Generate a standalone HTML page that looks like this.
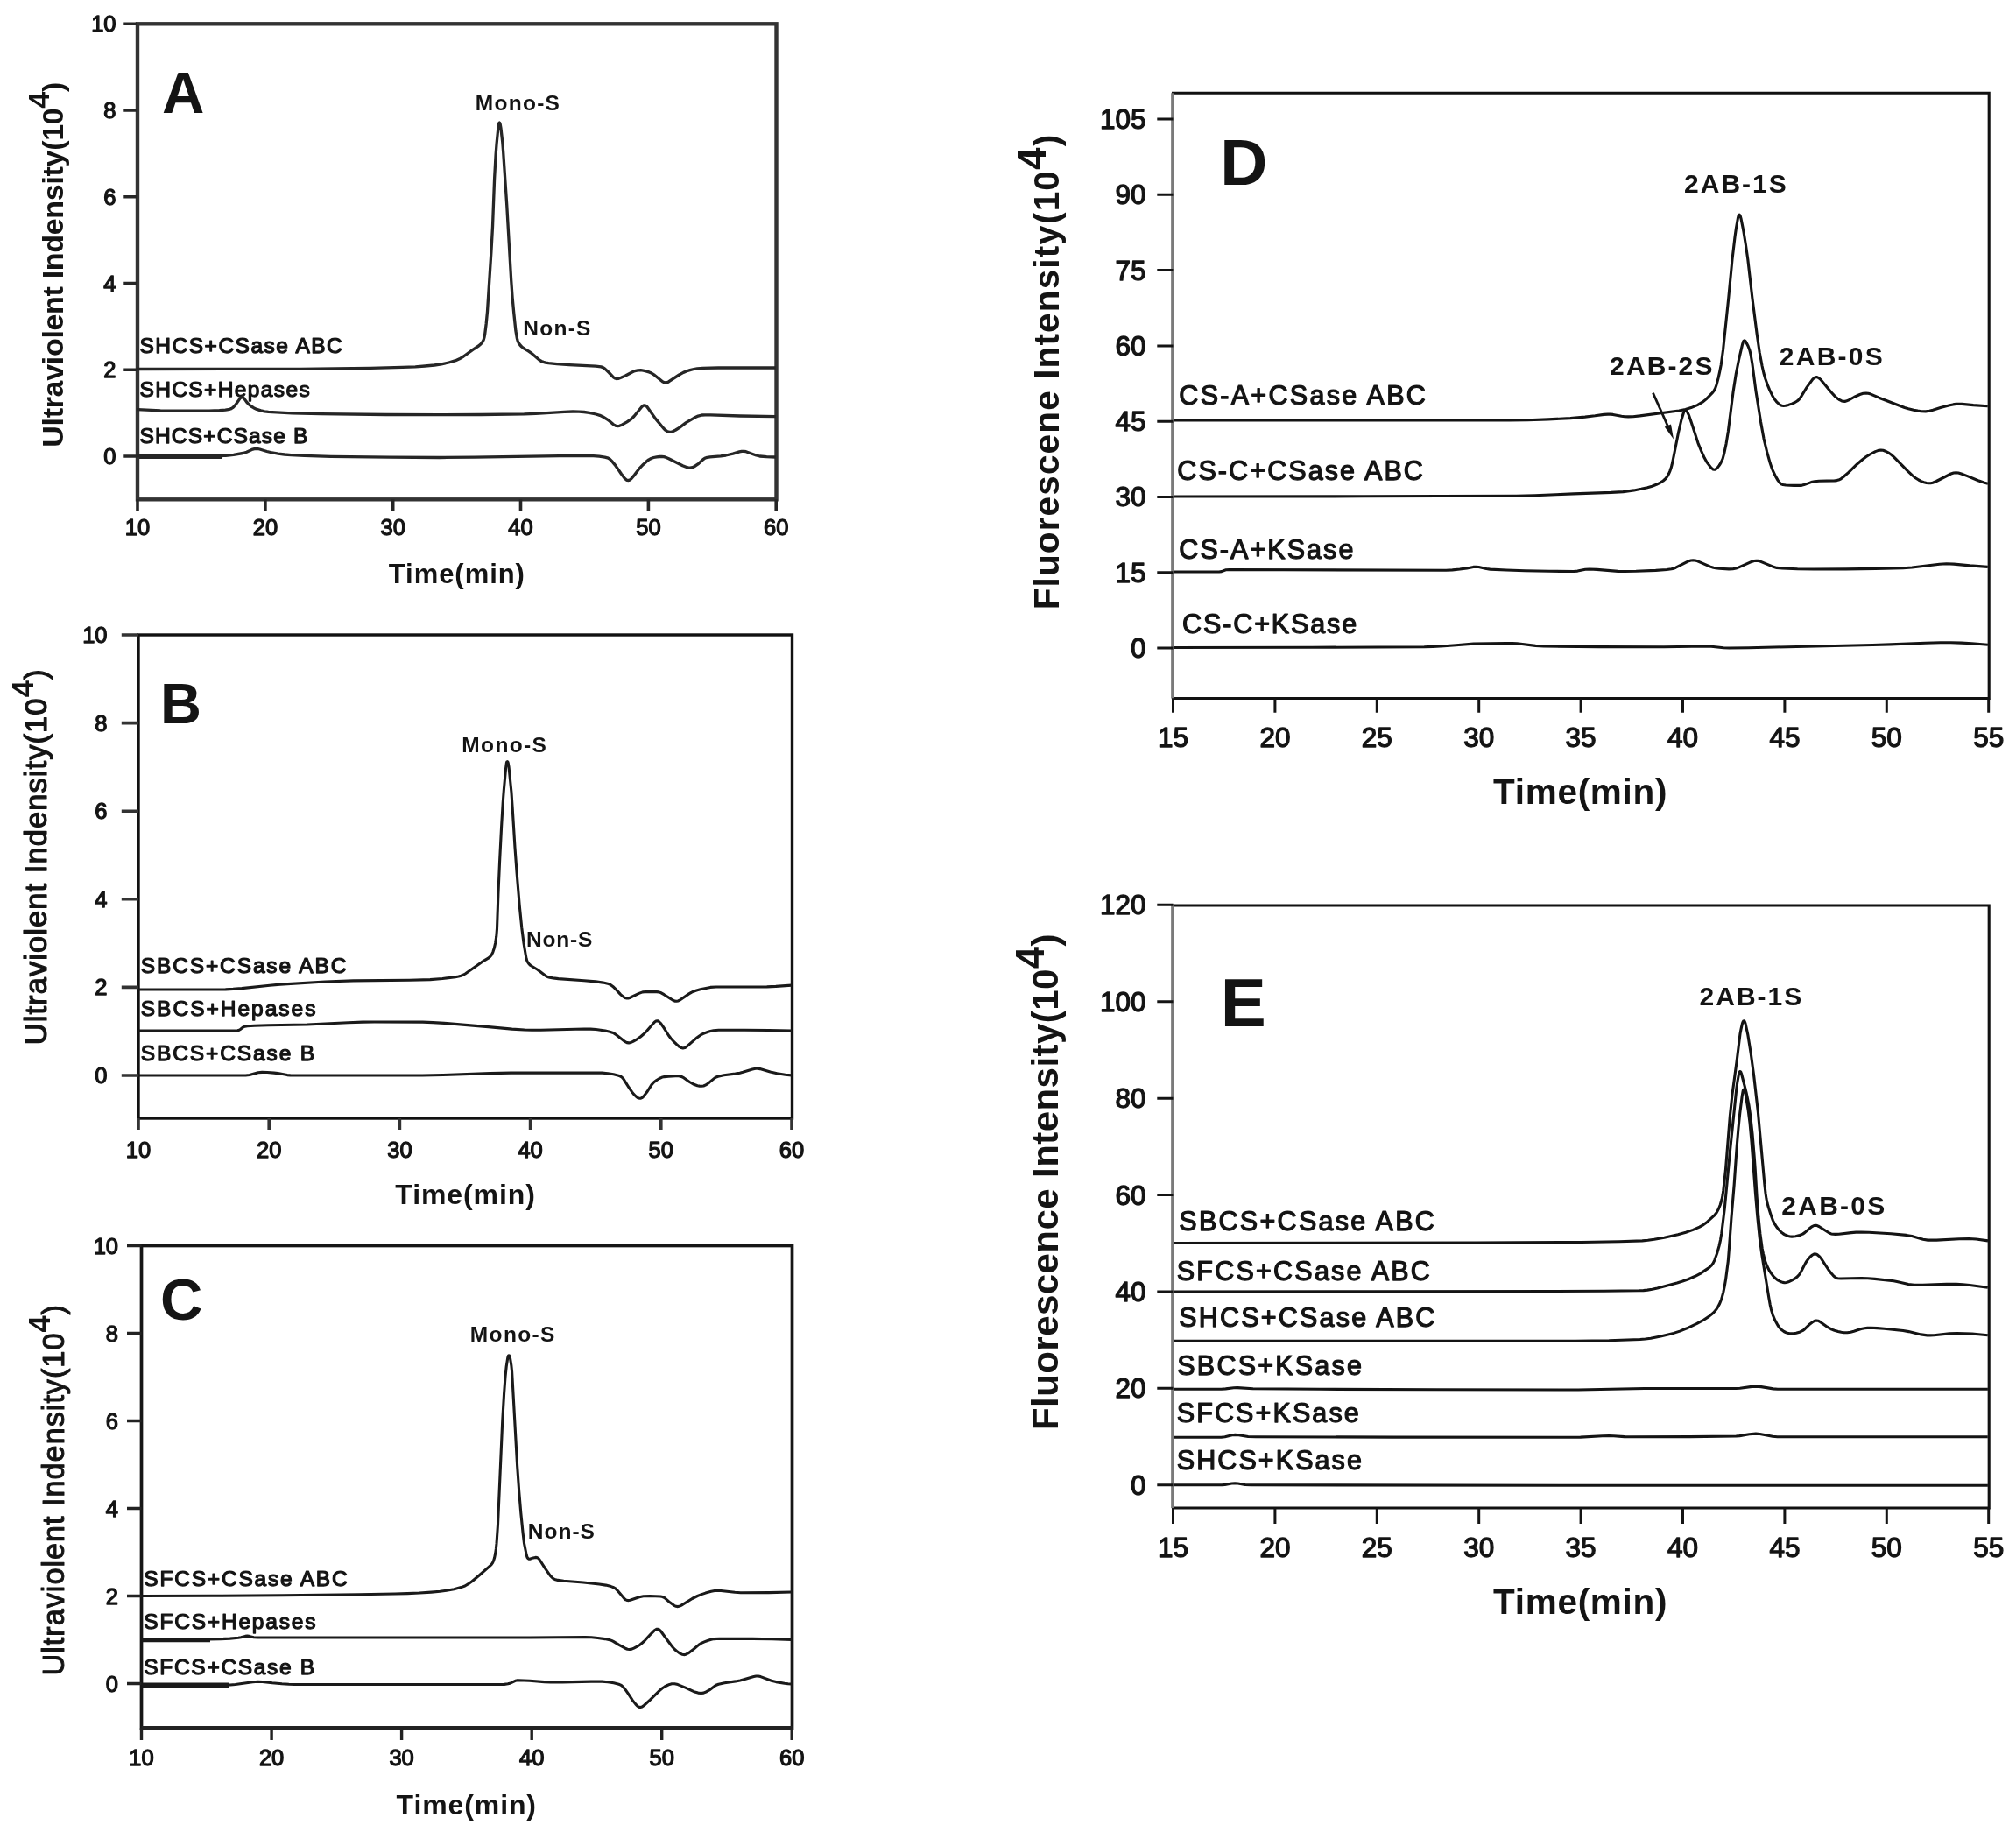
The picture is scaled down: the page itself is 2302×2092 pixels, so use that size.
<!DOCTYPE html>
<html lang="en"><head><meta charset="utf-8"><title>Chromatograms</title>
<style>
html,body{margin:0;padding:0;background:#fff}
body{width:2302px;height:2092px;overflow:hidden}
svg{display:block;filter:blur(0.6px)}
text{font-family:"Liberation Sans",sans-serif;font-weight:bold;fill:#141414}
.n{font-weight:normal;stroke:#141414;stroke-linejoin:round}
</style></head><body>
<svg width="2302" height="2092" viewBox="0 0 2302 2092">
<rect width="2302" height="2092" fill="#fff"/>
<rect x="157" y="27.3" width="729.5" height="543" fill="none" stroke="#333" stroke-width="4.4"/>
<path d="M141.3 521H157M141.3 422.3H157M141.3 323.5H157M141.3 224.8H157M141.3 126H157M141.3 27.3H157" stroke="#262626" stroke-width="3.6" fill="none"/>
<path d="M157 570.3V583.6M302.9 570.3V583.6M448.7 570.3V583.6M594.5 570.3V583.6M740.4 570.3V583.6M886.2 570.3V583.6" stroke="#262626" stroke-width="3.6" fill="none"/>
<text x="132.5" y="530" font-size="25.5" class="n" stroke-width="1.3" text-anchor="end">0</text>
<text x="132.5" y="431.3" font-size="25.5" class="n" stroke-width="1.3" text-anchor="end">2</text>
<text x="132.5" y="332.5" font-size="25.5" class="n" stroke-width="1.3" text-anchor="end">4</text>
<text x="132.5" y="233.8" font-size="25.5" class="n" stroke-width="1.3" text-anchor="end">6</text>
<text x="132.5" y="135" font-size="25.5" class="n" stroke-width="1.3" text-anchor="end">8</text>
<text x="132.5" y="36.3" font-size="25.5" class="n" stroke-width="1.3" text-anchor="end">10</text>
<text x="157" y="611.3" font-size="25.5" class="n" stroke-width="1.3" text-anchor="middle">10</text>
<text x="302.9" y="611.3" font-size="25.5" class="n" stroke-width="1.3" text-anchor="middle">20</text>
<text x="448.7" y="611.3" font-size="25.5" class="n" stroke-width="1.3" text-anchor="middle">30</text>
<text x="594.5" y="611.3" font-size="25.5" class="n" stroke-width="1.3" text-anchor="middle">40</text>
<text x="740.4" y="611.3" font-size="25.5" class="n" stroke-width="1.3" text-anchor="middle">50</text>
<text x="886.2" y="611.3" font-size="25.5" class="n" stroke-width="1.3" text-anchor="middle">60</text>
<text x="443.8" y="665.5" font-size="31" textLength="155.1">Time(min)</text>
<text transform="translate(71.6 510.7) rotate(-90)" font-size="34" textLength="417">Ultraviolent Indensity(10<tspan dy="-15.6" font-size="34" style="font-weight:bold;stroke:none">4</tspan><tspan dy="15.6" font-size="34">)</tspan></text>
<text x="185" y="129" font-size="67">A</text>
<text x="542.8" y="125.8" font-size="24.5" textLength="96.1">Mono-S</text>
<text x="597.3" y="382.5" font-size="24.5" textLength="77.1">Non-S</text>
<text x="159.5" y="402.5" font-size="24.5" class="n" stroke-width="1.25" textLength="231.3">SHCS+CSase ABC</text>
<text x="159.5" y="452.8" font-size="24.5" class="n" stroke-width="1.25" textLength="194.2">SHCS+Hepases</text>
<text x="159.5" y="506.3" font-size="24.5" class="n" stroke-width="1.25" textLength="191.9">SHCS+CSase B</text>
<path d="M157 421.5L343 421.3L423.2 420.4L459.5 419.4L474.2 418.8L485.2 418L496.1 417L504 415.8L512.4 414L520.3 411.7L524.6 409.8L529.3 407L539.8 399.3L546.5 395L549.1 392.7L550.8 390.6L552.1 388.2L552.9 385.6L553.7 381.4L555.2 369.5L556.5 355.8L560.9 287.7L562.5 258.8L564.6 204.1L566.1 176.9L567.1 163.9L568.9 145.7L569.5 141.5L569.9 140.5L570.3 140.1L570.7 140.5L571.1 141.5L571.9 146L573.7 161.7L574.6 172.6L578.7 233.7L583.7 320.1L585.1 339.8L586.8 358L588.9 377.8L590.3 386L591.2 389.3L592.3 391.8L593.9 394L595.8 396L598.6 398.1L603.7 401.1L606.2 402.8L616.1 411.2L618.2 412.5L620.5 413.4L622.9 414.1L626.4 414.7L636 415.7L650 416.7L680.2 418.2L686.4 418.9L688.5 419.6L690.5 420.9L695.4 425.5L700.5 430.9L702.1 432L703.8 432.5L705.9 432.4L709 431.3L714.2 429L721.7 425L724.9 423.6L728.3 422.8L731.7 422.7L734.5 423.1L737.6 423.8L741.2 424.9L743.9 426.1L747.5 428.4L756.5 435.8L758.5 436.7L760.3 437L761.9 436.7L763.8 435.7L775.5 428L780.3 425.4L784.3 423.8L787.8 422.6L792.2 421.5L796.1 420.8L802.3 420.4L820.3 420L885.8 420" fill="none" stroke="#262626" stroke-width="3.3" stroke-linejoin="round"/>
<path d="M157 467.7L183.2 468.8L212.2 469.2L239 469.1L250.5 468.7L257.4 468.2L262.3 467.3L264.1 466.6L265.6 465.7L267.2 464.2L269.3 461.8L274 455.1L275.2 454.1L276.5 453.7L277.6 454.1L278.6 454.9L282.1 459.7L284.1 461.8L286.8 464L289.6 465.7L293.2 467.4L297.9 468.9L302.1 469.9L306.5 470.4L333.5 471.8L366.2 472.6L441 473.5L501 473.7L549 473.5L598.5 472.9L611.7 472.4L644.4 470.4L654.1 470L661.1 470.1L666.9 470.5L672.8 471.4L680.4 473L684.9 474.3L688.5 476L693.6 479.2L696.1 480.9L700.2 484.5L701.8 485.6L703.6 486.4L705.2 486.6L707.3 486.3L710.1 485.2L715.9 481.8L719.9 479.2L722.1 477.2L724.1 475.3L732.9 464.5L734.5 463.2L735.9 462.8L737.5 463.3L739 464.7L748.5 478.1L757.8 489.3L759.8 491.2L761.6 492.4L763.4 493.2L765 493.4L766.4 493.3L768.1 492.8L771.6 491L776.2 488.1L783.4 482.6L792.4 477.3L797.2 475.1L801.5 474L805 473.8L811.5 473.8L845 475L886 475.7" fill="none" stroke="#262626" stroke-width="3.3" stroke-linejoin="round"/>
<path d="M159 521.3H253" stroke="#262626" stroke-width="5.4" fill="none"/>
<path d="M157 520.5L250.5 520.5L257.7 520.3L266.7 519.4L277.5 517.5L281.6 516.2L288.6 513.1L290.5 512.6L292.5 512.4L294.4 512.5L296.6 513L304.7 515.5L308.9 516.5L317.7 518.1L324.9 519L332.4 519.6L347.6 520.4L377.8 521.3L444.6 522.2L501.8 522.5L541.8 522.2L638.8 520.7L668.6 520.5L677.6 520.7L684.3 521.2L690.7 522.1L693.6 522.8L696 524L698.5 526.4L702 530.6L704.8 534.4L709.3 541L713.1 546L715.3 547.9L716.3 548.4L717.3 548.5L718.2 548.4L719.2 548L721 546.5L724.7 542.1L730.6 534.3L734.4 530.4L738.3 526.9L740.9 524.9L743.5 523.5L746.3 522.5L749.8 521.8L753 521.5L755.7 521.4L757.9 521.6L760.1 522.2L763.7 523.7L779.5 531.8L784.7 533.7L786.4 534.1L788.1 534.2L790.7 533.7L793.7 532.2L797.8 529.3L803.3 524.3L804.7 523.3L806.3 522.7L810.7 521.8L822.9 520.8L828.8 520L836.9 518.2L844.3 515.9L846.9 515.3L849.4 515.3L851.8 515.7L863.5 520L867.6 521L875.3 521.7L885.8 522" fill="none" stroke="#262626" stroke-width="3.3" stroke-linejoin="round"/>
<rect x="158" y="725" width="746.5" height="552" fill="none" stroke="#111" stroke-width="3.4"/>
<path d="M138.8 1228H158M138.8 1127.4H158M138.8 1026.8H158M138.8 926.2H158M138.8 825.6H158M138.8 725H158" stroke="#333" stroke-width="3.6" fill="none"/>
<path d="M158 1277V1290M307.2 1277V1290M456.4 1277V1290M605.6 1277V1290M754.8 1277V1290M904 1277V1290" stroke="#333" stroke-width="3.6" fill="none"/>
<text x="122.5" y="1237" font-size="25.5" class="n" stroke-width="1.3" text-anchor="end">0</text>
<text x="122.5" y="1136.4" font-size="25.5" class="n" stroke-width="1.3" text-anchor="end">2</text>
<text x="122.5" y="1035.8" font-size="25.5" class="n" stroke-width="1.3" text-anchor="end">4</text>
<text x="122.5" y="935.2" font-size="25.5" class="n" stroke-width="1.3" text-anchor="end">6</text>
<text x="122.5" y="834.6" font-size="25.5" class="n" stroke-width="1.3" text-anchor="end">8</text>
<text x="122.5" y="734" font-size="25.5" class="n" stroke-width="1.3" text-anchor="end">10</text>
<text x="158" y="1321.5" font-size="25.5" class="n" stroke-width="1.3" text-anchor="middle">10</text>
<text x="307.2" y="1321.5" font-size="25.5" class="n" stroke-width="1.3" text-anchor="middle">20</text>
<text x="456.4" y="1321.5" font-size="25.5" class="n" stroke-width="1.3" text-anchor="middle">30</text>
<text x="605.6" y="1321.5" font-size="25.5" class="n" stroke-width="1.3" text-anchor="middle">40</text>
<text x="754.8" y="1321.5" font-size="25.5" class="n" stroke-width="1.3" text-anchor="middle">50</text>
<text x="904" y="1321.5" font-size="25.5" class="n" stroke-width="1.3" text-anchor="middle">60</text>
<text x="451.3" y="1375" font-size="32" textLength="159.6">Time(min)</text>
<text transform="translate(53.1 1193.3) rotate(-90)" font-size="34.5" textLength="428.7" class="n" stroke-width="1.2">Ultraviolent Indensity(10<tspan dy="-14.7" font-size="34.5" style="font-weight:bold;stroke:none">4</tspan><tspan dy="14.7" font-size="34.5">)</tspan></text>
<text x="183" y="825.5" font-size="65">B</text>
<text x="527.3" y="858.8" font-size="24.5" textLength="96.6">Mono-S</text>
<text x="601.1" y="1081.3" font-size="24.5" textLength="75.3">Non-S</text>
<text x="160.8" y="1110.5" font-size="24.5" class="n" stroke-width="1.25" textLength="234.6">SBCS+CSase ABC</text>
<text x="160.8" y="1160" font-size="24.5" class="n" stroke-width="1.25" textLength="199.6">SBCS+Hepases</text>
<text x="160.8" y="1211.3" font-size="24.5" class="n" stroke-width="1.25" textLength="198.4">SBCS+CSase B</text>
<path d="M158 1130L248.2 1130L257.5 1129.9L266.2 1129.4L276 1128.6L308 1125.2L320 1124.1L371.6 1121L403.4 1119.9L467.6 1119.2L491.1 1118.6L505.3 1117.5L519.9 1115.7L523.6 1115L526.5 1114.2L528.8 1113.3L531.2 1112L550 1098.7L557.5 1094.2L559.8 1092.3L561.4 1090.2L562.8 1087.3L564.3 1082.8L565.6 1077L566.8 1069.3L567.5 1060.6L568.9 1021.4L570.5 985.1L572.6 944.2L574.2 917L575.3 902.5L577.6 877.1L578.4 871.3L578.8 870L579.3 869.6L579.8 870L580.2 871L581 875.5L583.9 904.1L585.1 921.6L588 968L590.1 996.7L593.2 1033.8L595.8 1059.7L598 1076.8L600 1089.1L601 1094.5L601.8 1097.1L602.8 1099.1L604.1 1100.8L605.9 1102.5L613.8 1107.3L622.7 1114.1L625.1 1115.4L627.7 1116.2L631.7 1116.9L637.6 1117.6L667 1119.7L680.2 1120.9L688.7 1122.1L695 1123.6L697.4 1124.7L699.8 1126.4L703.6 1130.1L708.4 1135.4L710.9 1137.6L713.5 1139.4L715.8 1140L717.4 1139.9L719 1139.5L729.6 1134.4L733.8 1132.9L738 1132.5L749.7 1132.6L752.4 1132.9L755 1133.8L758.2 1135.7L768.5 1142.3L770.5 1143.1L772.6 1143.3L774.2 1143L776 1142.2L786.7 1134.9L789.3 1133.4L791.8 1132.2L795.3 1131L799.7 1129.8L811.2 1127.4L817.9 1127L875.7 1126.9L885.9 1126.4L903.8 1125.1" fill="none" stroke="#1a1a1a" stroke-width="3.1" stroke-linejoin="round"/>
<path d="M158 1177L269.2 1177L271.4 1176.8L273.2 1176.2L274.4 1175.5L277.5 1173.1L279.6 1172.2L282.5 1171.8L290.5 1171.3L306.3 1170.8L350.8 1170L397.5 1167.7L414.2 1167.1L427.4 1167L482.7 1167.1L494.2 1167.6L507.4 1168.4L557.7 1172.6L584.6 1175.1L598.8 1176L607.1 1176.2L617.6 1176.2L667.3 1175L674.3 1175.1L680.5 1175.5L685.8 1176.2L691.2 1177.1L696.3 1178.2L699.4 1179.2L701.4 1180.2L703.4 1181.6L713.9 1189.7L715.8 1190.6L718 1190.9L720.1 1190.5L722.8 1189.4L727.6 1186.6L731.3 1184L734.5 1181.3L737.2 1178.7L747.3 1167.3L749 1166.1L750.4 1165.8L751.4 1165.9L752.4 1166.5L754.4 1168.5L758 1173.6L763.4 1182.3L766 1185.7L768.8 1188.8L772.7 1192.7L775.9 1195.5L778 1196.6L779.8 1197L781.9 1196.6L783.9 1195.4L796.1 1184.7L800 1181.9L803.1 1180.4L807.8 1178.5L811.3 1177.4L814.7 1176.7L820.5 1176.3L850 1176.3L878 1176.5L904 1177" fill="none" stroke="#1a1a1a" stroke-width="3.1" stroke-linejoin="round"/>
<path d="M158 1228L280.5 1228L284.9 1227.5L294.8 1224.8L299.2 1224.4L305.2 1224.5L313 1225.1L317.2 1225.6L328 1227.6L331.5 1227.9L336 1228L482.2 1228L506.2 1227.5L559.7 1225.6L583.4 1225.1L687.4 1225.1L694.1 1225.7L700.6 1226.8L706.4 1228.2L708 1228.8L709.4 1229.6L710.9 1230.9L712.3 1232.6L718 1241.7L721.6 1246.9L723.6 1249.4L725.7 1251.5L727.8 1253.3L729.2 1254L730.8 1254.3L731.8 1254.2L732.8 1253.7L734 1252.9L735.1 1251.6L739.1 1246.5L743.9 1238.9L746.7 1235.8L749.7 1233.5L752.9 1231.5L755.6 1230.3L758.5 1229.6L763.4 1229.2L771.2 1228.8L774.9 1228.8L777.4 1229.2L779 1229.8L780.7 1230.7L787.4 1235.5L792.4 1238.3L796.4 1239.7L798.8 1240.1L801 1240.3L803.4 1240L805.9 1238.9L810.1 1235.9L815.9 1231.1L817.8 1230L819.9 1229.2L826.5 1227.8L839.6 1226.1L844.8 1225.2L848.4 1224.3L859.2 1221.1L862.8 1220.3L865.3 1220.2L867.8 1220.6L879.5 1224L887.3 1225.7L896.7 1227.2L903.9 1227.9" fill="none" stroke="#1a1a1a" stroke-width="3.1" stroke-linejoin="round"/>
<rect x="161.5" y="1422.5" width="743" height="550.7" fill="none" stroke="#161616" stroke-width="3.7"/>
<path d="M161.5 1973.4H904.5" stroke="#222" stroke-width="5" fill="none"/>
<path d="M145 1922.5H161.5M145 1822.5H161.5M145 1722.5H161.5M145 1622.5H161.5M145 1522.5H161.5M145 1422.5H161.5" stroke="#222" stroke-width="3.4" fill="none"/>
<path d="M161.5 1973.2V1987M310.1 1973.2V1987M458.6 1973.2V1987M607.2 1973.2V1987M755.7 1973.2V1987M904.2 1973.2V1987" stroke="#222" stroke-width="3.4" fill="none"/>
<text x="135" y="1931.5" font-size="25.5" class="n" stroke-width="1.3" text-anchor="end">0</text>
<text x="135" y="1831.5" font-size="25.5" class="n" stroke-width="1.3" text-anchor="end">2</text>
<text x="135" y="1731.5" font-size="25.5" class="n" stroke-width="1.3" text-anchor="end">4</text>
<text x="135" y="1631.5" font-size="25.5" class="n" stroke-width="1.3" text-anchor="end">6</text>
<text x="135" y="1531.5" font-size="25.5" class="n" stroke-width="1.3" text-anchor="end">8</text>
<text x="135" y="1431.5" font-size="25.5" class="n" stroke-width="1.3" text-anchor="end">10</text>
<text x="161.5" y="2015.5" font-size="25.5" class="n" stroke-width="1.3" text-anchor="middle">10</text>
<text x="310.1" y="2015.5" font-size="25.5" class="n" stroke-width="1.3" text-anchor="middle">20</text>
<text x="458.6" y="2015.5" font-size="25.5" class="n" stroke-width="1.3" text-anchor="middle">30</text>
<text x="607.2" y="2015.5" font-size="25.5" class="n" stroke-width="1.3" text-anchor="middle">40</text>
<text x="755.7" y="2015.5" font-size="25.5" class="n" stroke-width="1.3" text-anchor="middle">50</text>
<text x="904.2" y="2015.5" font-size="25.5" class="n" stroke-width="1.3" text-anchor="middle">60</text>
<text x="452.6" y="2071.5" font-size="32" textLength="159.4">Time(min)</text>
<text transform="translate(73.4 1913.5) rotate(-90)" font-size="34.3" textLength="423.4" class="n" stroke-width="1.0">Ultraviolent Indensity(10<tspan dy="-16.4" font-size="34.3" style="font-weight:bold;stroke:none">4</tspan><tspan dy="16.4" font-size="34.3">)</tspan></text>
<text x="183" y="1506.5" font-size="67">C</text>
<text x="536.8" y="1531.5" font-size="24.5" textLength="96.6">Mono-S</text>
<text x="602.8" y="1757" font-size="24.5" textLength="76.1">Non-S</text>
<text x="164.3" y="1811" font-size="24.5" class="n" stroke-width="1.25" textLength="232.4">SFCS+CSase ABC</text>
<text x="164.3" y="1860.3" font-size="24.5" class="n" stroke-width="1.25" textLength="196.1">SFCS+Hepases</text>
<text x="164.3" y="1911.5" font-size="24.5" class="n" stroke-width="1.25" textLength="194.9">SFCS+CSase B</text>
<path d="M162 1822.5L242.7 1822.3L322.7 1821.7L409.7 1820.7L451 1820L465.2 1819.6L479 1819L492.4 1818.1L502.4 1817.3L509.8 1816.3L518.4 1814.7L526.4 1812.6L530.9 1811L534.8 1808.7L539 1805.7L547.1 1799L560.9 1786.8L562.5 1784.6L563.6 1782.1L564.7 1778.5L565.7 1773.4L566.4 1768.7L567 1762.7L568.5 1741L573.7 1623.4L575.6 1591.2L577 1572.2L578.2 1560.5L579.8 1550.2L580.4 1548.4L580.7 1547.9L581.1 1547.8L581.5 1548L581.9 1548.8L582.7 1551.9L583.9 1559.6L584.6 1566.3L590.6 1673.4L592.7 1703L594.8 1727.9L597.1 1750.6L598.5 1762.2L601.2 1775.7L602.1 1778.5L603.1 1779.8L603.9 1780.3L605 1780.3L609 1778.9L611.4 1778.4L613.2 1778.6L614.6 1779.3L616.1 1781L622.4 1790.9L628.2 1799.1L630.7 1801.8L632.1 1802.8L633.4 1803.4L637 1804.4L643.7 1805.3L666.1 1807L684.3 1809L691.7 1810.1L697.7 1811.6L700.8 1812.7L703 1814.1L704.9 1816.1L712.9 1825.6L714.6 1826.9L716.3 1827.5L717.7 1827.6L719.6 1827.2L730 1823.7L734.6 1822.7L742.1 1822.5L754.3 1823L756.7 1823.5L758.9 1824.6L764.9 1829.8L769.7 1833.3L771.9 1834.3L774 1834.6L775.6 1834.3L777.7 1833.4L790.4 1825.5L796.4 1822.5L801.1 1820.6L805.6 1819.1L812.1 1817.3L816 1816.5L819.2 1816.3L823.2 1816.5L839.1 1818.3L845.8 1818.7L877.8 1818.6L903.8 1818" fill="none" stroke="#1a1a1a" stroke-width="3.1" stroke-linejoin="round"/>
<path d="M163 1872.7H240" stroke="#1a1a1a" stroke-width="5" fill="none"/>
<path d="M162 1872.7L210 1872.5L251.5 1871.7L262.5 1871.1L272.2 1870.3L275.1 1869.8L280.1 1868.4L282.3 1868.1L284.5 1868.4L289.7 1869.8L294.4 1870L605.2 1870L668.4 1869.5L675.4 1869.8L682.6 1870.5L690.8 1871.6L696.2 1872.7L698.3 1873.4L700.3 1874.4L706.9 1878.4L713.9 1882.2L716.4 1883.2L718.8 1883.5L721.3 1883.1L723.8 1882.1L727.6 1880.2L730.7 1878.2L733.4 1876L736.4 1873.3L742.8 1866.3L747 1862.1L749 1860.7L750 1860.3L750.9 1860.2L751.7 1860.4L752.7 1860.9L754.4 1862.5L765.8 1878L768.4 1881.3L770.5 1883.5L773.5 1886.1L776.5 1888.2L778.8 1889.2L780.9 1889.6L783.2 1889.2L785.8 1887.9L792 1883.2L797.8 1878.4L800.9 1876.4L804.3 1874.9L808.7 1873.2L812.1 1872.2L815.3 1871.6L821.5 1871.3L859.3 1871.4L881.7 1871.8L904 1872.5" fill="none" stroke="#1a1a1a" stroke-width="3.1" stroke-linejoin="round"/>
<path d="M163 1924.2H262" stroke="#1a1a1a" stroke-width="5.4" fill="none"/>
<path d="M162 1924L263 1924L268.7 1923.5L288.5 1920.7L294.7 1920.3L299.7 1920.5L310.9 1921.8L321.9 1922.8L329.8 1923.3L336.3 1923.5L569.8 1923.5L575.8 1923.4L580 1922.8L583.1 1921.9L588.4 1919.3L590.1 1918.9L592 1918.7L604.7 1919.3L621.7 1920.6L628.9 1921L642.2 1920.9L675.2 1920.1L687.4 1920.1L694.1 1920.7L700.8 1921.8L706.6 1923.3L708.2 1923.9L709.7 1924.7L711.5 1926.3L713.9 1929.2L717.4 1934.1L722.3 1941.6L725.7 1945.9L727.4 1947.8L728.7 1948.8L729.9 1949.4L731.2 1949.6L733.1 1949.1L735.3 1947.5L742.3 1941.1L753 1930.6L756 1928L758.7 1926.2L762 1924.5L764.6 1923.4L767 1922.8L770.4 1922.8L774 1923.6L782.6 1927.1L792.3 1931.7L797.1 1933.1L800.5 1933.5L803.4 1933.1L806.8 1931.7L810.9 1929.3L816.6 1924.9L818.4 1924L820.5 1923.2L827.3 1921.7L839.9 1919.9L845.1 1918.9L850.4 1917.6L860.7 1914.6L863.4 1914L865.8 1914L868.5 1914.6L880.9 1919.2L886.2 1920.6L895.8 1922.3L899.8 1922.8L903.8 1923" fill="none" stroke="#1a1a1a" stroke-width="3.1" stroke-linejoin="round"/>
<path d="M1339.5 106.2H2271.2V797.5H1339.5" fill="none" stroke="#111" stroke-width="3.1" stroke-linecap="square"/>
<path d="M1339 106.2V797.5" fill="none" stroke="#7a7a7a" stroke-width="3.7"/>
<path d="M1321.3 740H1339.5M1321.3 653.7H1339.5M1321.3 567.4H1339.5M1321.3 481.2H1339.5M1321.3 394.9H1339.5M1321.3 308.6H1339.5M1321.3 222.3H1339.5M1321.3 136H1339.5" stroke="#141414" stroke-width="3.0" fill="none"/>
<path d="M1339.5 797.5V813.8M1455.9 797.5V813.8M1572.3 797.5V813.8M1688.7 797.5V813.8M1805.1 797.5V813.8M1921.5 797.5V813.8M2037.9 797.5V813.8M2154.3 797.5V813.8M2270.7 797.5V813.8" stroke="#141414" stroke-width="3.0" fill="none"/>
<text x="1308.5" y="751" font-size="31.5" class="n" stroke-width="1.3" text-anchor="end">0</text>
<text x="1308.5" y="664.7" font-size="31.5" class="n" stroke-width="1.3" text-anchor="end">15</text>
<text x="1308.5" y="578.4" font-size="31.5" class="n" stroke-width="1.3" text-anchor="end">30</text>
<text x="1308.5" y="492.2" font-size="31.5" class="n" stroke-width="1.3" text-anchor="end">45</text>
<text x="1308.5" y="405.9" font-size="31.5" class="n" stroke-width="1.3" text-anchor="end">60</text>
<text x="1308.5" y="319.6" font-size="31.5" class="n" stroke-width="1.3" text-anchor="end">75</text>
<text x="1308.5" y="233.3" font-size="31.5" class="n" stroke-width="1.3" text-anchor="end">90</text>
<text x="1308.5" y="147" font-size="31.5" class="n" stroke-width="1.3" text-anchor="end">105</text>
<text x="1339.5" y="853" font-size="31.5" class="n" stroke-width="1.3" text-anchor="middle">15</text>
<text x="1455.9" y="853" font-size="31.5" class="n" stroke-width="1.3" text-anchor="middle">20</text>
<text x="1572.3" y="853" font-size="31.5" class="n" stroke-width="1.3" text-anchor="middle">25</text>
<text x="1688.7" y="853" font-size="31.5" class="n" stroke-width="1.3" text-anchor="middle">30</text>
<text x="1805.1" y="853" font-size="31.5" class="n" stroke-width="1.3" text-anchor="middle">35</text>
<text x="1921.5" y="853" font-size="31.5" class="n" stroke-width="1.3" text-anchor="middle">40</text>
<text x="2037.9" y="853" font-size="31.5" class="n" stroke-width="1.3" text-anchor="middle">45</text>
<text x="2154.3" y="853" font-size="31.5" class="n" stroke-width="1.3" text-anchor="middle">50</text>
<text x="2270.7" y="853" font-size="31.5" class="n" stroke-width="1.3" text-anchor="middle">55</text>
<text x="1705.1" y="917.5" font-size="40.5" textLength="198.3">Time(min)</text>
<text transform="translate(1208.5 696.3) rotate(-90)" font-size="40.5" textLength="542.5">Fluorescene Intensity(10<tspan dy="-14.5" font-size="46" style="font-weight:bold;stroke:none">4</tspan><tspan dy="14.5" font-size="40.5">)</tspan></text>
<text x="1393.3" y="211.3" font-size="75">D</text>
<text x="1923.1" y="220" font-size="30" textLength="116.6">2AB-1S</text>
<text x="2031.8" y="417" font-size="30" textLength="117.9">2AB-0S</text>
<text x="1838.1" y="427.5" font-size="30" textLength="117.3">2AB-2S</text>
<text x="1346.3" y="462" font-size="30.5" class="n" stroke-width="1.25" textLength="281.6">CS-A+CSase ABC</text>
<text x="1344.3" y="547.5" font-size="30.5" class="n" stroke-width="1.25" textLength="280.6">CS-C+CSase ABC</text>
<text x="1346.3" y="637.5" font-size="30.5" class="n" stroke-width="1.25" textLength="199.1">CS-A+KSase</text>
<text x="1350.1" y="722.5" font-size="30.5" class="n" stroke-width="1.25" textLength="199.1">CS-C+KSase</text>
<path d="M1887.5 448.8L1905.5 489" stroke="#141414" stroke-width="2.8" fill="none"/>
<path d="M1911 501.5L1900.8 487.6L1908 484.4Z" fill="#141414"/>
<path d="M1340 480L1723.7 480L1744.2 479.8L1767.7 478.9L1793.2 477.6L1809.9 476.1L1821.3 474.8L1831.5 473.4L1835.9 473.1L1838.9 473.1L1841.9 473.4L1851.5 475.3L1855.2 475.8L1859.2 475.9L1864.7 475.7L1872.6 474.9L1917.2 469L1924.6 467.6L1931 465.6L1938.2 462.6L1944 459.2L1947.9 456.1L1954.8 449.2L1957.1 446.3L1958.7 443.2L1960.1 439.2L1962.1 431.7L1963.7 424.4L1965.2 416.8L1967.6 399.2L1973.6 341.8L1978 296.2L1981 270.7L1982.4 260.8L1984.4 249.2L1985.1 246.3L1985.6 245.5L1986 245.2L1986.5 245.5L1987.1 246.3L1988.1 250L1991 264.7L1993.5 280.3L1995.8 296.3L2001 341.3L2006.2 381.7L2009.2 402.5L2012.1 418L2013.9 426L2015.8 432.5L2018.1 439.1L2020.7 445.3L2023.5 451.2L2025.7 455.1L2028.6 458.8L2031.7 461.7L2033.3 462.8L2034.9 463.3L2036.6 463.5L2038.8 463.3L2042.2 462.4L2046.6 460.9L2049.6 459.5L2052.1 458L2054.2 456.2L2055.9 454.1L2062.5 443.2L2069.1 434.1L2070.4 432.6L2071.7 431.5L2072.9 430.9L2074.2 430.6L2075.3 430.8L2076.3 431.3L2078.6 433.1L2083.6 438.9L2090.4 447.3L2095.8 453.1L2098.2 455L2100.6 456.7L2102.6 457.7L2104.4 458.3L2106.6 458.4L2108.7 457.8L2111 456.8L2117.1 453.5L2123.7 450.5L2127.5 449.3L2130.9 449L2133.4 449.3L2136.2 450.1L2145.6 454.2L2174.8 465.5L2179.1 466.7L2185.2 468.2L2189.8 469.1L2193.8 469.7L2198.8 469.9L2203.2 469.3L2207.1 468.3L2215.7 465.6L2226.3 462.8L2230.2 461.9L2233.6 461.4L2240.1 461.4L2253.3 462.6L2269.8 463.7" fill="none" stroke="#141414" stroke-width="3.1" stroke-linejoin="round"/>
<path d="M1340 567L1557.2 566.8L1731.5 566.2L1752.5 565.7L1796.7 563.9L1839.7 562.4L1853.4 561.6L1865.8 559.9L1874.1 558.3L1881.2 556.7L1886.5 555.2L1891.4 553.3L1895.9 551.1L1899.2 549L1902 546.5L1904.2 543.5L1905.5 541.1L1906.8 538.1L1908 534.8L1909 531.2L1911.2 520.9L1916.4 494.5L1919.7 480.3L1922.6 470.8L1923.5 469.2L1924.5 468.7L1925.4 469.1L1926.4 470.1L1927.4 472L1928.6 474.5L1931.5 483L1939 506.1L1942.6 514.9L1946.2 522.8L1949.4 528.4L1953.6 533.8L1955 535.1L1956.1 535.9L1957.4 536.2L1958.4 536.1L1959.7 535.4L1961.1 534.1L1963.2 531.4L1964.9 528.6L1967.1 523.9L1968.8 517.6L1971.1 506.6L1973.3 493L1979.2 446.4L1982.2 427.4L1985.5 410.9L1989.6 393.2L1990.7 389.8L1991.3 389.1L1991.9 388.8L1992.7 389.1L1993.4 390L1996.1 395.3L1997.8 399.7L1999 404.5L2000.9 415.6L2005 446.8L2010.6 482.1L2014 500.8L2017.6 515.9L2021.3 529.1L2023 534.1L2024.6 538L2027.6 544.1L2030.2 548.6L2032.2 551.2L2034 552.7L2036 553.5L2039.2 554L2048.4 554.4L2055.6 554.4L2057.9 554.1L2060 553.6L2068.2 550.6L2072.1 549.7L2077.1 549.3L2094.8 548.9L2097.5 548.6L2099.4 548.1L2102.1 546.8L2105 544.5L2110.9 539.4L2120.3 530.2L2126.4 525L2130.6 521.8L2135 519L2141.4 515.6L2144.9 514.4L2147.8 514L2150.3 514.3L2152.8 515.2L2156.1 516.9L2159.3 519L2162.3 521.6L2178.6 538.2L2183.9 543.1L2187.2 545.7L2190.8 548L2193.9 549.6L2196.9 550.7L2199.8 551.5L2202.3 551.8L2204.5 551.7L2206.9 551.2L2211.1 549.5L2227.7 541L2230.8 540L2233.5 539.7L2236.2 540L2239.5 541L2246.5 543.6L2258.8 548.7L2266.1 551.3L2269.9 552.2" fill="none" stroke="#141414" stroke-width="3.1" stroke-linejoin="round"/>
<path d="M1340 653L1392 653L1394.9 652.6L1399.8 650.8L1403.7 650.5L1651.2 651.2L1658.4 650.9L1666.9 650L1675 648.9L1682.4 647.4L1685.1 647.2L1688.5 647.5L1697.3 649.5L1701.5 650.1L1720.2 651L1741.5 651.8L1769 652.3L1797 652.5L1801.4 652.1L1810.2 650.3L1815 650L1823.5 650.4L1847.6 652.4L1855.1 652.5L1868.1 652.3L1890.6 651.4L1903.1 650.5L1908.5 649.8L1910.9 649.2L1913.5 648.2L1928.4 640.7L1930.8 640L1933.2 639.7L1935.7 640L1938.5 640.8L1953 647.1L1956.5 648.3L1959.2 648.8L1963.1 649.3L1974.1 649.9L1978.6 649.8L1982.3 649.1L1985.5 647.9L2000.1 641.4L2003 640.5L2005.4 640.2L2007.6 640.4L2010 641.1L2024 646.9L2028.8 648.4L2035 649L2052.5 649.7L2071.2 650L2107.5 649.9L2141.5 649.4L2173 648.7L2183.2 648L2214.7 644.2L2222.5 643.8L2230.9 644.1L2249.4 645.9L2269.8 647.4" fill="none" stroke="#141414" stroke-width="3.1" stroke-linejoin="round"/>
<path d="M1340 739.5L1498.2 739.3L1626.2 738.7L1636.2 738.4L1648.7 737.7L1662.4 736.8L1682.6 735.1L1719.9 734.5L1726.9 734.6L1732.1 734.8L1753.4 737.4L1762.7 738L1826.2 738.6L1899.9 738.7L1947.7 738L1954.1 738.3L1968.1 739.8L1974.6 740L1996.6 739.7L2138.3 736.5L2158.8 735.9L2198.5 734.2L2215.7 733.8L2227.7 733.8L2239.5 734.1L2251.7 734.8L2269.9 736.2" fill="none" stroke="#141414" stroke-width="3.1" stroke-linejoin="round"/>
<path d="M1339.5 1034H2271.2V1722H1339.5" fill="none" stroke="#111" stroke-width="3.1" stroke-linecap="square"/>
<path d="M1339 1034V1722" fill="none" stroke="#7a7a7a" stroke-width="3.7"/>
<path d="M1321.3 1695.8H1339.5M1321.3 1585.3H1339.5M1321.3 1475H1339.5M1321.3 1364.5H1339.5M1321.3 1254.2H1339.5M1321.3 1143.8H1339.5M1321.3 1033.3H1339.5" stroke="#141414" stroke-width="3.0" fill="none"/>
<path d="M1339.5 1722V1740M1455.9 1722V1740M1572.3 1722V1740M1688.7 1722V1740M1805.1 1722V1740M1921.5 1722V1740M2037.9 1722V1740M2154.3 1722V1740M2270.7 1722V1740" stroke="#141414" stroke-width="3.0" fill="none"/>
<text x="1308.5" y="1706.8" font-size="31.5" class="n" stroke-width="1.3" text-anchor="end">0</text>
<text x="1308.5" y="1596.3" font-size="31.5" class="n" stroke-width="1.3" text-anchor="end">20</text>
<text x="1308.5" y="1486" font-size="31.5" class="n" stroke-width="1.3" text-anchor="end">40</text>
<text x="1308.5" y="1375.5" font-size="31.5" class="n" stroke-width="1.3" text-anchor="end">60</text>
<text x="1308.5" y="1265.2" font-size="31.5" class="n" stroke-width="1.3" text-anchor="end">80</text>
<text x="1308.5" y="1154.8" font-size="31.5" class="n" stroke-width="1.3" text-anchor="end">100</text>
<text x="1308.5" y="1044.3" font-size="31.5" class="n" stroke-width="1.3" text-anchor="end">120</text>
<text x="1339.5" y="1778" font-size="31.5" class="n" stroke-width="1.3" text-anchor="middle">15</text>
<text x="1455.9" y="1778" font-size="31.5" class="n" stroke-width="1.3" text-anchor="middle">20</text>
<text x="1572.3" y="1778" font-size="31.5" class="n" stroke-width="1.3" text-anchor="middle">25</text>
<text x="1688.7" y="1778" font-size="31.5" class="n" stroke-width="1.3" text-anchor="middle">30</text>
<text x="1805.1" y="1778" font-size="31.5" class="n" stroke-width="1.3" text-anchor="middle">35</text>
<text x="1921.5" y="1778" font-size="31.5" class="n" stroke-width="1.3" text-anchor="middle">40</text>
<text x="2037.9" y="1778" font-size="31.5" class="n" stroke-width="1.3" text-anchor="middle">45</text>
<text x="2154.3" y="1778" font-size="31.5" class="n" stroke-width="1.3" text-anchor="middle">50</text>
<text x="2270.7" y="1778" font-size="31.5" class="n" stroke-width="1.3" text-anchor="middle">55</text>
<text x="1705.1" y="1842.5" font-size="40.5" textLength="198.3">Time(min)</text>
<text transform="translate(1208 1633) rotate(-90)" font-size="42" textLength="566.5">Fluorescence Intensity(10<tspan dy="-16.5" font-size="45.5" style="font-weight:bold;stroke:none">4</tspan><tspan dy="16.5" font-size="42">)</tspan></text>
<text x="1393.8" y="1172" font-size="78">E</text>
<text x="1940.6" y="1147.5" font-size="30" textLength="116.6">2AB-1S</text>
<text x="2034.3" y="1387" font-size="30" textLength="117.9">2AB-0S</text>
<text x="1346.3" y="1405" font-size="30.5" class="n" stroke-width="1.25" textLength="291.6">SBCS+CSase ABC</text>
<text x="1343.8" y="1462" font-size="30.5" class="n" stroke-width="1.25" textLength="289.1">SFCS+CSase ABC</text>
<text x="1346.3" y="1515" font-size="30.5" class="n" stroke-width="1.25" textLength="292.1">SHCS+CSase ABC</text>
<text x="1344.3" y="1569.5" font-size="30.5" class="n" stroke-width="1.25" textLength="210.6">SBCS+KSase</text>
<text x="1343.8" y="1623.8" font-size="30.5" class="n" stroke-width="1.25" textLength="207.9">SFCS+KSase</text>
<text x="1343.8" y="1677.5" font-size="30.5" class="n" stroke-width="1.25" textLength="211.1">SHCS+KSase</text>
<path d="M1340 1419.5L1520.5 1419.4L1686.2 1419L1805.7 1418.5L1849 1417.8L1875.2 1416.9L1881.7 1416.3L1888.9 1415.3L1900.4 1413.2L1916 1409.7L1925 1407.2L1933.2 1404.4L1940.6 1401.2L1945.1 1398.6L1949.3 1395.4L1957.3 1388.2L1960.1 1384.7L1962.3 1380.8L1964.3 1375.7L1966.1 1369.5L1967 1365.1L1967.8 1359.4L1970.4 1336.5L1975.4 1274.2L1978 1249.6L1983 1212.7L1987 1180.5L1988.1 1174.8L1989.5 1168.7L1990.3 1166.7L1990.8 1166L1991.2 1165.8L1991.7 1166L1992.2 1166.6L1993 1168.6L1995.7 1181.1L1999.2 1202.8L2002.6 1227.8L2007.4 1269.8L2014.9 1352.7L2016 1362.4L2016.9 1368.6L2017.9 1373.5L2019.3 1378.5L2022.4 1388.3L2024.4 1393.6L2026.3 1397.4L2028.6 1401L2031.1 1404.1L2033.9 1407L2035.7 1408.4L2037.5 1409.6L2039.8 1410.7L2042.1 1411.5L2044 1412L2046 1412.1L2050.4 1411.7L2055 1410.5L2058.5 1409.1L2060.7 1407.6L2065.6 1403.3L2069.2 1400.6L2071.3 1399.5L2073.4 1399.2L2075 1399.6L2077 1400.5L2088.8 1408L2091 1408.9L2093.2 1409.3L2095.7 1409.4L2099.7 1409.2L2113.8 1407.6L2119.3 1407.1L2125.3 1407L2134.1 1407.3L2159.3 1408.7L2176.7 1410.4L2183.1 1411.6L2195.8 1415.2L2201.4 1416.1L2211.2 1416.1L2237.2 1414.8L2248.2 1414.5L2256.6 1415L2270 1416.9" fill="none" stroke="#141414" stroke-width="3.1" stroke-linejoin="round"/>
<path d="M1340 1475L1569.5 1474.9L1777.2 1474.5L1831.7 1474.3L1871.2 1473.8L1876.5 1473.6L1881.2 1473.1L1886.6 1472.2L1892.5 1470.9L1915 1465L1921.4 1463L1927.8 1460.7L1935.8 1457.3L1941.4 1454.4L1950.3 1448.4L1952.5 1446.7L1954.1 1445.2L1956.2 1442.4L1957.9 1438.8L1960.9 1430.4L1963 1422.9L1964.5 1416.1L1965.8 1408.2L1969.3 1379.9L1975.7 1312.2L1982.7 1244.3L1983.7 1236.6L1985.4 1227L1986.2 1224.4L1986.6 1223.7L1987.1 1223.5L1987.8 1224.2L1988.5 1226L1994.3 1248.7L1996.9 1261.5L1998.8 1274.6L2001 1294.7L2003.3 1322.4L2004.2 1334.8L2006.1 1366.3L2007.9 1389.5L2009.9 1408.9L2012.2 1425.7L2013.4 1431.6L2014.8 1437.4L2016.3 1442.2L2018 1446.3L2020 1450.3L2022.3 1453.9L2025.1 1457.5L2027.7 1460.1L2030.1 1461.9L2033.1 1463.5L2035.7 1464.4L2037.9 1464.7L2039.8 1464.5L2042.2 1463.8L2045.8 1462.1L2049.3 1460.2L2052.4 1457.8L2054.9 1455L2056.6 1452L2061.6 1442.4L2063.3 1439.7L2065.4 1436.9L2067.4 1434.7L2069.5 1433L2071.2 1432.1L2072.7 1431.9L2073.8 1432.1L2075.1 1432.7L2077.7 1434.9L2079.7 1437.4L2087.6 1449.5L2090.6 1453.5L2093.1 1456.3L2094.9 1458L2096.5 1459.1L2098.3 1459.7L2102 1460L2125.5 1459.5L2132.7 1459.8L2140.7 1460.4L2162.3 1462.8L2167.2 1463.7L2179.1 1466.5L2185.8 1467.4L2195.6 1467.4L2222.8 1466.3L2233.8 1466.4L2241.3 1466.8L2249.2 1467.5L2269.8 1470.3" fill="none" stroke="#141414" stroke-width="3.1" stroke-linejoin="round"/>
<path d="M1340 1531.2L1799 1531.2L1837.2 1530.8L1872.7 1529.5L1878.7 1529L1884.9 1528.2L1896.2 1526L1911 1522.4L1918.1 1520.1L1926.2 1516.8L1937.8 1511.4L1944.6 1507.7L1951.3 1503.4L1956.3 1499.2L1958.3 1497L1960.2 1494.7L1961.8 1492.1L1963.3 1489.3L1965.7 1483.5L1967.8 1475.8L1969.2 1468.9L1970.6 1460.8L1973.3 1440L1974.3 1427.3L1976.9 1391.4L1980.2 1352.5L1983.3 1308.1L1984.9 1289.2L1986.7 1271.5L1989.3 1250.9L1990.2 1245.7L1990.7 1244.4L1991.2 1244L1991.7 1244.3L1992.1 1245.2L1993 1248.6L1996.3 1268.6L1998 1281.7L2000.1 1304.6L2004.6 1364.5L2006.7 1388.6L2009.3 1414L2011.8 1432.6L2019.9 1482.4L2021.2 1489.8L2022.4 1495.2L2024.4 1501.8L2026.9 1507.8L2030.2 1513.7L2031.6 1515.8L2033.1 1517.4L2035 1519.1L2037 1520.5L2039 1521.5L2041.1 1522.2L2043.6 1522.7L2045.8 1522.9L2048.3 1522.7L2051 1522.2L2055.5 1520.9L2058.6 1519.4L2060.8 1517.7L2065.7 1512.8L2069 1510.2L2071.7 1508.5L2073.1 1508.1L2074.3 1508L2075.9 1508.2L2077.6 1509L2085.8 1514.8L2089 1516.7L2091.6 1518.1L2094.6 1519.2L2098.9 1520.5L2102.4 1521.3L2105.6 1521.8L2109.3 1521.8L2113.2 1521.3L2116.8 1520.3L2125.2 1517.6L2129.1 1516.7L2132.3 1516.4L2136.5 1516.3L2143.5 1516.6L2151.5 1517.2L2173.1 1519.5L2179.5 1520.6L2193.6 1523.9L2200.6 1524.9L2204.1 1524.9L2208.3 1524.8L2225.9 1522.9L2234.4 1522.5L2243.4 1522.7L2251.9 1523.1L2259.4 1523.7L2269.8 1524.8" fill="none" stroke="#141414" stroke-width="3.1" stroke-linejoin="round"/>
<path d="M1340 1586.2L1394.7 1586.2L1399.5 1585.9L1408.7 1584.8L1412.9 1584.6L1430.8 1585.7L1506.8 1586.3L1640.6 1586.8L1802.3 1587L1877.6 1585.5L1982.1 1585.5L1986.8 1585.2L2000.4 1583.4L2005.2 1583.1L2011.1 1583.6L2024.9 1585.9L2029.9 1586.2L2269.9 1586.2" fill="none" stroke="#141414" stroke-width="3.1" stroke-linejoin="round"/>
<path d="M1340 1641.3L1394.5 1641.2L1398.7 1640.7L1406.9 1638.7L1410.4 1638.4L1414.6 1638.7L1425.2 1640.5L1434 1640.7L1591.5 1641.1L1796.7 1641.2L1804.7 1641.1L1829.7 1639.8L1837.4 1639.6L1842.7 1639.7L1854.9 1640.6L1860.6 1640.7L1929.4 1640.6L1982.4 1640L1986.4 1639.6L1997.4 1637.7L2004.9 1637.1L2009.6 1637.5L2024.1 1640.3L2029.6 1640.7L2269.8 1640.8" fill="none" stroke="#141414" stroke-width="3.1" stroke-linejoin="round"/>
<path d="M1340 1695.7L1395.2 1695.7L1398.7 1695.4L1406.6 1694L1410.1 1693.7L1413.5 1694L1421.9 1695.5L1428.4 1695.8L1786.4 1696.2L2269.9 1696.2" fill="none" stroke="#141414" stroke-width="3.1" stroke-linejoin="round"/>
</svg>
</body></html>
